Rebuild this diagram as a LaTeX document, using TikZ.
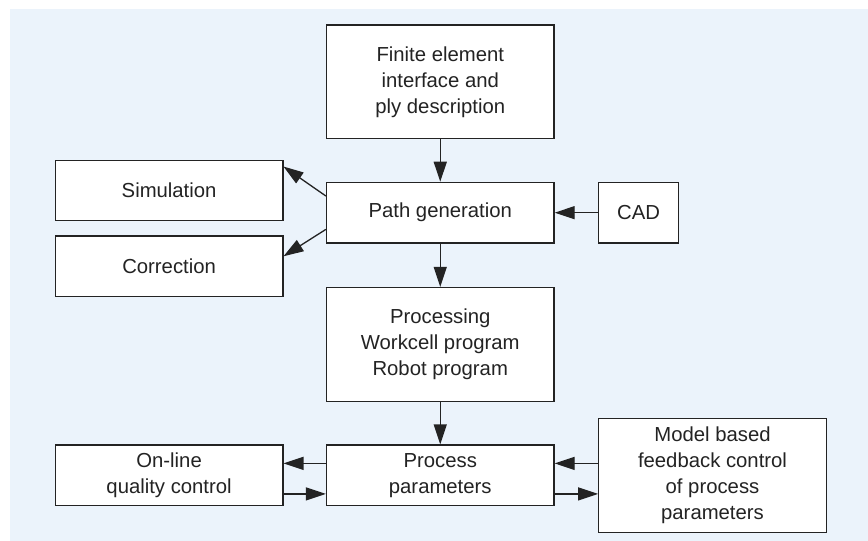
\documentclass[tikz,border=0pt]{standalone}
\usepackage{fontspec}
\setmainfont{Liberation Sans}
\usepackage{xcolor}
\usepackage{tikz}
\usetikzlibrary{arrows.meta,calc}
\definecolor{panelblue}{RGB}{235,243,251}
\definecolor{boxline}{RGB}{35,35,35}

\begin{document}
\begin{tikzpicture}[x=1pt,y=1pt,
        block/.style={draw=boxline,line width=1.3pt,fill=white,text=boxline,
            align=center,inner sep=0pt,font=\fontsize{20.3}{26}\selectfont},
        wide/.style={block,minimum width=227.5pt,minimum height=60.6pt},
        tall/.style={block,minimum width=227.5pt,minimum height=113.9pt},
        flow/.style={draw=boxline,line width=1.3pt,-{Triangle[length=20pt,width=13pt]}}]
            \useasboundingbox (0,0) rectangle (868,541);
            % light blue panel behind the blocks
            \fill[panelblue] (10,0) rectangle (868,532.3);
            % draw the middle column
            \node[tall] (fem) at (440.25,459.15) {Finite element\\interface and\\ply description};
            \node[wide] (path) at (440.25,328.3) {Path generation};
            \node[tall] (proc) at (440.25,196.5) {Processing\\Workcell program\\Robot program};
            \node[wide] (params) at (440.25,65.6) {Process\\parameters};
            % draw the side blocks
            \node[block,minimum width=80pt,minimum height=60.6pt] (cad) at (638.6,328.3) {CAD};
            \node[wide] (sim) at (169.1,350.5) {Simulation};
            \node[wide] (corr) at (169.1,274.7) {Correction};
            \node[wide] (online) at (169.1,65.6) {On-line\\quality control};
            \node[tall] (model) at (712.5,65.6) {Model based\\feedback control\\of process\\parameters};
            % draw straight arrows between blocks
            \foreach \a/\b in {fem/path,cad/path,path/proc,proc/params}
            {
                \draw[flow] (\a) -- (\b);
            }
            % draw slanted arrows from path generation
            \draw[flow] ([yshift=16.7]path.west) -- ([yshift=-7]sim.north east);
            \draw[flow] ([yshift=-16.7]path.west) -- ([yshift=10]corr.east);
            % draw arrow pairs around the process parameters
            \draw[flow] ([yshift=12]params.west) -- ([yshift=12]online.east);
            \draw[flow] ([yshift=-18.5]online.east) -- ([yshift=-18.5]params.west);
            \draw[flow] ([yshift=12]model.west) -- ([yshift=12]params.east);
            \draw[flow] ([yshift=-18.5]params.east) -- ([yshift=-18.5]model.west);
\end{tikzpicture}
\end{document}
